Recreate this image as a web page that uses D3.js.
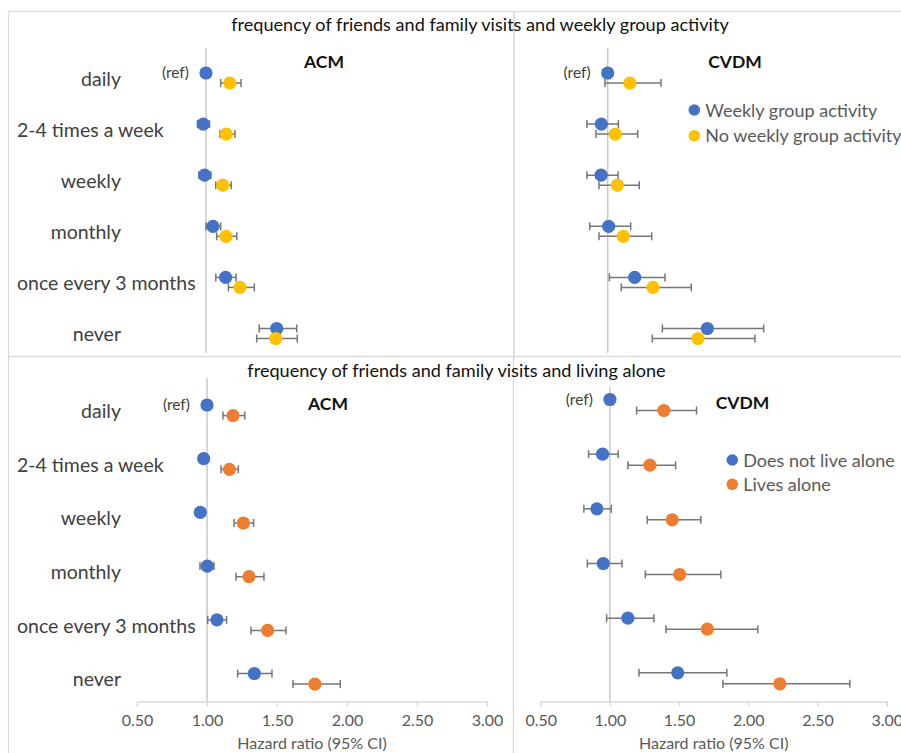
<!DOCTYPE html>
<html>
<head>
<meta charset="utf-8">
<script src="https://cdn.jsdelivr.net/npm/d3@7/dist/d3.min.js"></script>
<style>
  html, body { margin: 0; padding: 0; background: #fff; }
  svg { display: block; font-family: Lato, "Open Sans", sans-serif; }
</style>
</head>
<body>
<script>
// ---- data ----------------------------------------------------------
const categories = ["daily", "2-4 times a week", "weekly", "monthly", "once every 3 months", "never"];
const tickValues = [0.5, 1.0, 1.5, 2.0, 2.5, 3.0];
const tickLabels = ["0.50", "1.00", "1.50", "2.00", "2.50", "3.00"];

// Upper pair: friends/family visits x weekly group activity
const groupSeriesNames = ["Weekly group activity", "No weekly group activity"];
const groupAcmHR     = [1.00, 0.98, 0.99, 1.05, 1.14, 1.505];
const groupAcmLo     = [null, 0.94, 0.95, 1.00, 1.07, 1.38];
const groupAcmHi     = [null, 1.025, 1.035, 1.105, 1.215, 1.648];
const noGroupAcmHR   = [1.17, 1.145, 1.12, 1.143, 1.243, 1.498];
const noGroupAcmLo   = [1.105, 1.10, 1.07, 1.076, 1.16, 1.362];
const noGroupAcmHi   = [1.25, 1.207, 1.18, 1.22, 1.345, 1.652];
const groupCvdmHR    = [1.00, 0.954, 0.952, 1.007, 1.195, 1.72];
const groupCvdmLo    = [null, 0.85, 0.85, 0.87, 1.012, 1.395];
const groupCvdmHi    = [null, 1.077, 1.075, 1.166, 1.414, 2.127];
const noGroupCvdmHR  = [1.16, 1.055, 1.07, 1.113, 1.327, 1.652];
const noGroupCvdmLo  = [0.98, 0.915, 0.937, 0.937, 1.098, 1.322];
const noGroupCvdmHi  = [1.385, 1.217, 1.228, 1.318, 1.604, 2.064];

// Lower pair: friends/family visits x living alone
const aloneSeriesNames = ["Does not live alone", "Lives alone"];
const notAloneAcmHR  = [1.00, 0.976, 0.952, 1.002, 1.071, 1.338];
const notAloneAcmLo  = [null, 0.945, 0.92, 0.95, 1.005, 1.219];
const notAloneAcmHi  = [null, 1.01, 0.985, 1.05, 1.14, 1.464];
const aloneAcmHR     = [1.186, 1.16, 1.26, 1.30, 1.433, 1.771];
const aloneAcmLo     = [1.114, 1.10, 1.193, 1.207, 1.314, 1.614];
const aloneAcmHi     = [1.27, 1.224, 1.333, 1.407, 1.564, 1.952];
const notAloneCvdmHR = [1.00, 0.947, 0.906, 0.952, 1.13, 1.49];
const notAloneCvdmLo = [null, 0.846, 0.812, 0.837, 0.976, 1.21];
const notAloneCvdmHi = [null, 1.06, 1.01, 1.087, 1.318, 1.845];
const aloneCvdmHR    = [1.39, 1.289, 1.45, 1.504, 1.704, 2.228];
const aloneCvdmLo    = [1.193, 1.13, 1.27, 1.256, 1.405, 1.816];
const aloneCvdmHi    = [1.626, 1.475, 1.657, 1.802, 2.069, 2.734];

const titles = ["frequency of friends and family visits and weekly group activity",
                "frequency of friends and family visits and living alone"];
const outcomeNames = ["ACM", "CVDM"];
const axisTitle = "Hazard ratio (95% CI)";
const refLabel = "(ref)";

// ---- styling -------------------------------------------------------
const BLUE = "#4472C4", YELLOW = "#FFC000", ORANGE = "#ED7D31";
const GRID = "#d9d9d9", REFLINE = "#c9c9c9", BAR = "#767676";

const W = 901, H = 753;
const svg = d3.select("body").append("svg").attr("width", W).attr("height", H);
svg.append("rect").attr("width", W).attr("height", H).attr("fill", "#fff");

function rows(hr, lo, hi) {
  return categories.map((c, i) => ({ cat: c, hr: hr[i], lo: lo[i], hi: hi[i] }));
}

// four chart panels
const panels = [
  { outcome: outcomeNames[0], labels: true, xr: [136, 486], yr: [78, 333.5], off: 5, lineTop: 48, lineBot: 353, axis: false,
    titleXY: [324, 68], series: [
      { color: BLUE, data: rows(groupAcmHR, groupAcmLo, groupAcmHi) },
      { color: YELLOW, data: rows(noGroupAcmHR, noGroupAcmLo, noGroupAcmHi) }] },
  { outcome: outcomeNames[1], labels: false, xr: [538.5, 884.5], yr: [78, 333.5], off: 5, lineTop: 48, lineBot: 353, axis: false,
    titleXY: [735, 68], legend: { names: groupSeriesNames, colors: [BLUE, YELLOW], x: 694.3, y: 110, dy: 25.7 },
    series: [
      { color: BLUE, data: rows(groupCvdmHR, groupCvdmLo, groupCvdmHi) },
      { color: YELLOW, data: rows(noGroupCvdmHR, noGroupCvdmLo, noGroupCvdmHi) }] },
  { outcome: outcomeNames[0], labels: true, xr: [137, 487], yr: [410.3, 678.8], off: 5.3, lineTop: 378, lineBot: 701.5, axis: true,
    titleXY: [328, 410], series: [
      { color: BLUE, data: rows(notAloneAcmHR, notAloneAcmLo, notAloneAcmHi) },
      { color: ORANGE, data: rows(aloneAcmHR, aloneAcmLo, aloneAcmHi) }] },
  { outcome: outcomeNames[1], labels: false, xr: [540.7, 886.7], yr: [405, 678.3], off: 5.5, lineTop: 387, lineBot: 701.5, axis: true,
    titleXY: [742.5, 408.5], legend: { names: aloneSeriesNames, colors: [BLUE, ORANGE], x: 732.3, y: 460, dy: 24.3 },
    series: [
      { color: BLUE, data: rows(notAloneCvdmHR, notAloneCvdmLo, notAloneCvdmHi) },
      { color: ORANGE, data: rows(aloneCvdmHR, aloneCvdmLo, aloneCvdmHi) }] }
];

// chart frames
const frames = svg.append("g").attr("fill", "none").attr("stroke", GRID).attr("stroke-width", 1.2);
frames.append("rect").attr("x", 8.5).attr("y", 11.5).attr("width", 505.5).attr("height", 345);
frames.append("rect").attr("x", 514).attr("y", 11.5).attr("width", 400).attr("height", 345);
frames.append("rect").attr("x", 8.5).attr("y", 356.5).attr("width", 505).attr("height", 420);
frames.append("rect").attr("x", 513.5).attr("y", 356.5).attr("width", 400).attr("height", 420);

// section titles
svg.append("text").attr("x", 480).attr("y", 30.5).attr("text-anchor", "middle")
  .attr("font-size", 18.1).attr("fill", "#111").text(titles[0]);
svg.append("text").attr("x", 456.5).attr("y", 377).attr("text-anchor", "middle")
  .attr("font-size", 18.1).attr("fill", "#111").text(titles[1]);

panels.forEach(p => {
  const g = svg.append("g");
  const x = d3.scaleLinear().domain([tickValues[0], tickValues[tickValues.length - 1]]).range(p.xr);
  const y = d3.scalePoint().domain(categories).range(p.yr);

  // vertical line at HR = 1
  g.append("line").attr("x1", x(1)).attr("x2", x(1)).attr("y1", p.lineTop).attr("y2", p.lineBot)
    .attr("stroke", REFLINE).attr("stroke-width", 1.5);

  // horizontal axis
  if (p.axis) {
    const ax = d3.axisBottom(x).tickValues(tickValues).tickSize(5)
      .tickFormat((d, i) => tickLabels[i]);
    const axg = g.append("g").attr("transform", `translate(0,${p.lineBot})`).call(ax);
    axg.select(".domain").attr("stroke", GRID).attr("stroke-width", 1.3);
    axg.selectAll(".tick line").attr("stroke", GRID).attr("stroke-width", 1.3);
    axg.selectAll(".tick text").attr("fill", "#595959").attr("font-size", 16)
      .attr("font-family", "Lato, sans-serif").attr("dy", "1.05em").attr("y", 8);
    g.append("text").attr("x", (p.xr[0] + p.xr[1]) / 2).attr("y", p.lineBot + 47)
      .attr("text-anchor", "middle").attr("font-size", 16).attr("fill", "#595959").text(axisTitle);
  }

  // category labels (right aligned, pushed right if they would run past the left margin)
  if (p.labels) {
    categories.forEach(c => {
      const t = g.append("text").attr("y", y(c) + 7.5).attr("font-size", 19.5)
        .attr("fill", "#404040").text(c);
      const w = t.node().getComputedTextLength();
      const right = Math.max(121, 17 + w);
      t.attr("x", right).attr("text-anchor", "end");
    });
  }

  // outcome title
  g.append("text").attr("x", p.titleXY[0]).attr("y", p.titleXY[1]).attr("text-anchor", "middle")
    .attr("font-size", 17.5).attr("font-weight", "bold").attr("fill", "#111").text(p.outcome);

  // error bars
  p.series.forEach((s, si) => {
    const dy = si === 0 ? -p.off : p.off;
    const eb = g.append("g").attr("stroke", BAR).attr("stroke-width", 1.5).attr("fill", "none");
    s.data.filter(d => d.lo != null).forEach(d => {
      const yy = y(d.cat) + dy;
      eb.append("line").attr("x1", x(d.lo)).attr("x2", x(d.hi)).attr("y1", yy).attr("y2", yy);
      eb.append("line").attr("x1", x(d.lo)).attr("x2", x(d.lo)).attr("y1", yy - 4).attr("y2", yy + 4);
      eb.append("line").attr("x1", x(d.hi)).attr("x2", x(d.hi)).attr("y1", yy - 4).attr("y2", yy + 4);
    });
  });

  // markers
  p.series.forEach((s, si) => {
    const dy = si === 0 ? -p.off : p.off;
    g.append("g").selectAll("circle").data(s.data).join("circle")
      .attr("cx", d => x(d.hr)).attr("cy", d => y(d.cat) + dy).attr("r", 6.6).attr("fill", s.color);
  });

  // reference category marker label
  const ref = p.series[0].data[0];
  g.append("text").attr("x", x(ref.hr) - 17).attr("y", y(ref.cat) - p.off + 5)
    .attr("text-anchor", "end").attr("font-size", 15.5).attr("fill", "#404040").text(refLabel);

  // legend
  if (p.legend) {
    const L = p.legend;
    L.names.forEach((n, i) => {
      g.append("circle").attr("cx", L.x).attr("cy", L.y + i * L.dy).attr("r", 5.8).attr("fill", L.colors[i]);
      g.append("text").attr("x", L.x + 11).attr("y", L.y + i * L.dy + 6.5).attr("font-size", 18)
        .attr("fill", "#595959").text(n);
    });
  }
});
</script>
</body>
</html>
